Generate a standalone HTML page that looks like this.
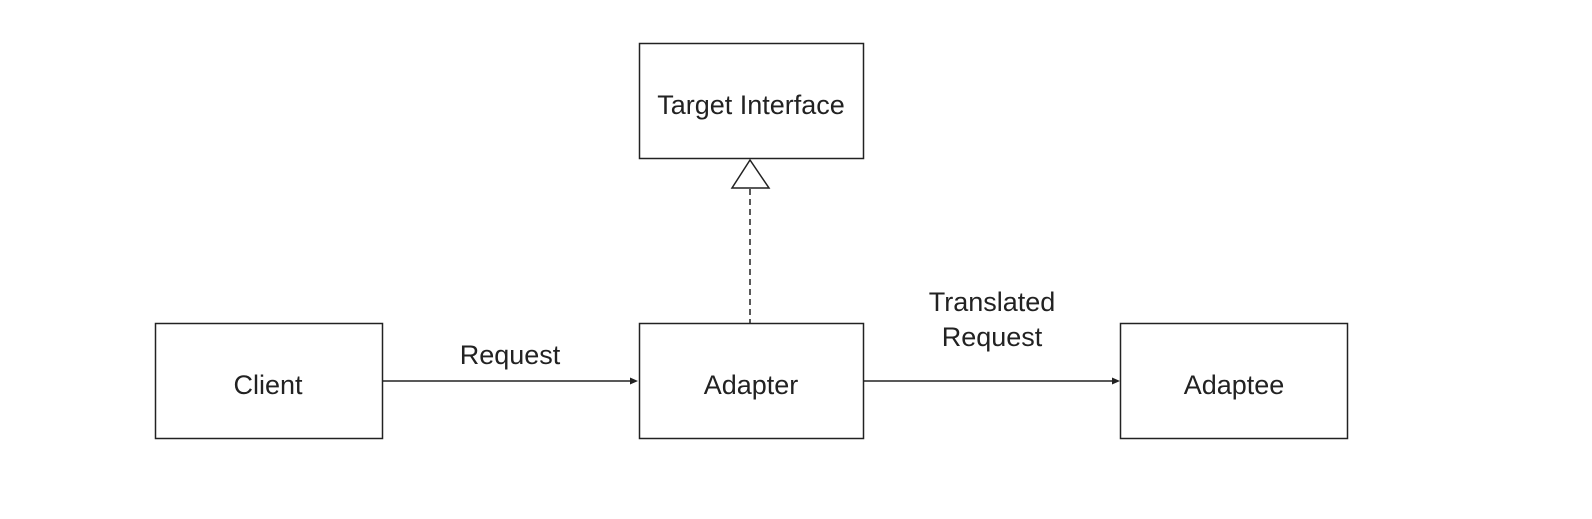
<!DOCTYPE html>
<html><head><meta charset="utf-8"><style>
html,body{margin:0;padding:0;background:#fff;}
</style></head><body>
<svg width="1592" height="519" xmlns="http://www.w3.org/2000/svg" style="display:block">
<g fill="#fff" stroke="#222" stroke-width="1.5">
<rect x="639.5" y="43.5" width="224" height="115"/>
<rect x="639.5" y="323.5" width="224" height="115"/>
<rect x="155.5" y="323.5" width="227" height="115"/>
<rect x="1120.5" y="323.5" width="227" height="115"/>
</g>
<g stroke="#222" stroke-width="1.5" fill="none">
<line x1="383" y1="381" x2="632" y2="381"/>
<line x1="864" y1="381" x2="1114" y2="381"/>
<line x1="750" y1="189" x2="750" y2="323" stroke-dasharray="6,4"/>
<polygon points="750,160 732,188 769,188" fill="#fff"/>
</g>
<g fill="#222">
<polygon points="638,381 630,377.5 630,384.5"/>
<polygon points="1120,381 1112,377.5 1112,384.5"/>
</g>
<g font-family="Liberation Sans, Arial, sans-serif" font-size="27" fill="#222" text-anchor="middle">
<text x="751" y="114">Target Interface</text>
<text x="751" y="394">Adapter</text>
<text x="268" y="394">Client</text>
<text x="1234" y="394">Adaptee</text>
<text x="510" y="364">Request</text>
<text x="992" y="311">Translated</text>
<text x="992" y="346">Request</text>
</g>
</svg>
</body></html>
